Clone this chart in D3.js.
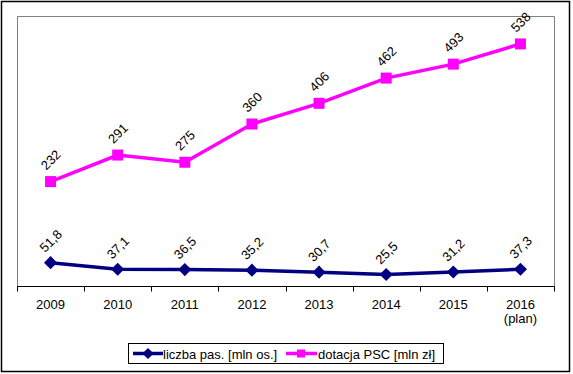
<!DOCTYPE html>
<html><head><meta charset="utf-8">
<script src="https://cdn.jsdelivr.net/npm/d3@7"></script>
<style>body{margin:0;background:#fff;}svg{display:block;font-family:"Liberation Sans",Arial,sans-serif;}</style>
</head><body>
<script>
const categories = ["2009","2010","2011","2012","2013","2014","2015","2016"];
const catSub = ["","","","","","","","(plan)"];
const passengers = [51.8,37.1,36.5,35.2,30.7,25.5,31.2,37.3];
const passengerLabels = ["51,8","37,1","36,5","35,2","30,7","25,5","31,2","37,3"];
const subsidy = [232,291,275,360,406,462,493,538];
const subsidyLabels = ["232","291","275","360","406","462","493","538"];
const seriesNames = ["liczba pas. [mln os.]","dotacja PSC [mln zł]"];

const W=573,H=374,FS=13;
const svg=d3.select("body").append("svg").attr("width",W).attr("height",H);
svg.append("rect").attr("x",1.5).attr("y",1.5).attr("width",568).attr("height",370).attr("fill","#fff").attr("stroke","#000").attr("stroke-width",1.5);

const pL=17,pR=554,pT=16,pB=286;
const x=d3.scaleBand().domain(categories).range([pL,pR]).padding(0);
const y=d3.scaleLinear().domain([0,600]).range([pB,pT]);

// plot border (gray)
svg.append("path").attr("d",`M${pL+0.5},${pB}V${pT+0.5}H${pR+0.5}V${pB}`).attr("fill","none").attr("stroke","#808080").attr("stroke-width",1);

// x axis
const ax=svg.append("g").attr("transform",`translate(0,${pB+0.5})`);
ax.append("line").attr("x1",pL).attr("x2",pR+1).attr("stroke","#000");
const bounds=categories.map(c=>x(c)).concat([pR]);
ax.selectAll("line.t").data(bounds).join("line").attr("class","t")
  .attr("x1",d=>Math.round(d)+0.5).attr("x2",d=>Math.round(d)+0.5).attr("y1",0).attr("y2",5).attr("stroke","#000");
ax.selectAll("text.c").data(categories).join("text").attr("class","c")
  .attr("x",d=>x(d)+x.bandwidth()/2).attr("y",22).attr("text-anchor","middle").attr("font-size",FS).text(d=>d);
ax.selectAll("text.s").data(catSub).join("text").attr("class","s")
  .attr("x",(d,i)=>x(categories[i])+x.bandwidth()/2).attr("y",36).attr("text-anchor","middle").attr("font-size",FS).text(d=>d);

const cx=(i)=>x(categories[i])+x.bandwidth()/2;
const line=d3.line().x((d,i)=>cx(i)).y(d=>y(d));

function drawSeries(vals,labels,color,marker){
  svg.append("path").datum(vals).attr("d",line).attr("fill","none").attr("stroke",color).attr("stroke-width",3.5);
  const g=svg.append("g");
  vals.forEach((v,i)=>{
    if(marker==="square"){
      g.append("rect").attr("x",cx(i)-5.5).attr("y",y(v)-5.5).attr("width",11).attr("height",11).attr("fill",color);
    } else {
      g.append("path").attr("d",d3.symbol(d3.symbolDiamond2,110)()).attr("transform",`translate(${cx(i)},${y(v)})`).attr("fill",color);
    }
    svg.append("text").attr("transform",`translate(${cx(i)+1},${y(v)-21}) rotate(-45)`)
      .attr("text-anchor","middle").attr("dominant-baseline","middle").attr("font-size",FS).attr("fill","#000").text(labels[i]);
  });
}
drawSeries(subsidy,subsidyLabels,"#FF00FF","square");
drawSeries(passengers,passengerLabels,"#000080","diamond");

// legend
const lg=svg.append("g");
lg.append("rect").attr("x",128.5).attr("y",343.5).attr("width",315).attr("height",20).attr("fill","#fff").attr("stroke","#000");
const ly=353.5;
lg.append("line").attr("x1",133).attr("x2",163).attr("y1",ly).attr("y2",ly).attr("stroke","#000080").attr("stroke-width",3.5);
lg.append("path").attr("d",d3.symbol(d3.symbolDiamond2,80)()).attr("transform",`translate(148,${ly})`).attr("fill","#000080");
lg.append("text").attr("x",163).attr("y",ly+5).attr("font-size",FS).text(seriesNames[0]);
lg.append("line").attr("x1",286).attr("x2",317).attr("y1",ly).attr("y2",ly).attr("stroke","#FF00FF").attr("stroke-width",3.5);
lg.append("rect").attr("x",297).attr("y",ly-4).attr("width",8).attr("height",8).attr("fill","#FF00FF");
lg.append("text").attr("x",318).attr("y",ly+5).attr("font-size",FS).text(seriesNames[1]);
</script>
</body></html>
